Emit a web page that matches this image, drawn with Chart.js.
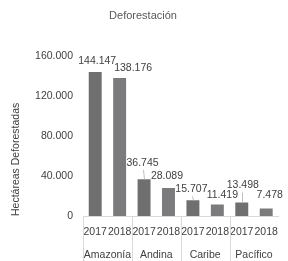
<!DOCTYPE html>
<html>
<head>
<meta charset="utf-8">
<script src="https://cdn.jsdelivr.net/npm/chart.js@4"></script>
<style>
    body { margin: 0; background: #fff; }
    #wrap { width: 288px; height: 261px; }
</style>
</head>
<body>
<div id="wrap"><canvas id="chart"></canvas></div>
<script>
const categorias = ['Amazonía', 'Andina', 'Caribe', 'Pacífico'];
const anios = ['2017', '2018'];
const valores2017 = [144147, 36745, 15707, 13498];
const valores2018 = [138176, 28089, 11419, 7478];
const ticksY = [0, 40000, 80000, 120000, 160000];

// desplazamiento de cada etiqueta respecto a la barra [dx, dy, linea guia]
const posEtiquetas = [
    [[2, 11, false], [-1.5, 16.5, true], [-1.5, 11, true], [1, 17, true]],
    [[13.5, 9.5, false], [-1.5, 11.5, false], [5, 9, false], [3.5, 13, false]]
];

const fuente = '"Liberation Sans", Arial, sans-serif';
const tam = 10.5;

function formato(v) {
    return String(v).replace(/\B(?=(\d{3})+(?!\d))/g, '.');
}

const etiquetas = {
    id: 'etiquetas',
    afterDatasetsDraw(chart) {
        const ctx = chart.ctx;
        ctx.save();
        ctx.font = tam + 'px ' + fuente;
        ctx.textAlign = 'center';
        ctx.textBaseline = 'middle';
        chart.data.datasets.forEach(function (ds, i) {
            chart.getDatasetMeta(i).data.forEach(function (bar, j) {
                let p = posEtiquetas[i][j];
                let x = bar.x + p[0];
                let y = bar.y - p[1];
                if (p[2]) {
                    ctx.strokeStyle = '#bfbfbf';
                    ctx.lineWidth = 1;
                    ctx.beginPath();
                    ctx.moveTo(Math.round(bar.x + p[0] / 2) + 0.5, y + 7);
                    ctx.lineTo(Math.round(bar.x) + 0.5, bar.y);
                    ctx.stroke();
                }
                ctx.fillStyle = '#404040';
                ctx.fillText(formato(ds.data[j]), x, y);
            });
        });
        ctx.restore();
    }
};

const separadores = {
    id: 'separadores',
    afterDraw(chart) {
        const ctx = chart.ctx;
        const sx = chart.scales.x;
        const paso = sx.width / categorias.length;
        ctx.save();
        ctx.strokeStyle = '#d9d9d9';
        ctx.lineWidth = 1;
        for (let i = 0; i < categorias.length; i++) {
            let x = Math.round(sx.getPixelForValue(i) - paso / 2) + 0.5;
            ctx.beginPath();
            ctx.moveTo(x, chart.chartArea.bottom);
            ctx.lineTo(x, chart.height);
            ctx.stroke();
        }
        ctx.restore();
    }
};

const ctx = document.getElementById('chart').getContext('2d');
const data = {
    labels: categorias,
    datasets: [{
            label: anios[0],
            data: valores2017,
            xAxisID: 'x',
            backgroundColor: '#6f6f71',
            categoryPercentage: 1,
            barPercentage: 0.53
        }, {
            label: anios[1],
            data: valores2018,
            xAxisID: 'x',
            backgroundColor: '#7b7b7d',
            categoryPercentage: 1,
            barPercentage: 0.53
        }]
};

const config = {
    type: 'bar',
    data,
    options: {
        responsive: true,
        maintainAspectRatio: false,
        animation: false,
        layout: {
            padding: {left: 0, right: 2, top: 0, bottom: 0}
        },
        plugins: {
            legend: {display: false},
            tooltip: {enabled: false},
            title: {
                display: true,
                text: 'Deforestación',
                color: '#595959',
                font: {family: fuente, size: 11, weight: 'normal'},
                padding: {top: 9, bottom: 34}
            }
        },
        scales: {
            x: {
                position: 'bottom',
                weight: 1,
                afterFit: function (s) {
                    s.height = 23;
                },
                grid: {display: false, drawTicks: false},
                border: {display: false},
                ticks: {
                    color: '#404040',
                    padding: 11,
                    maxRotation: 0,
                    autoSkip: false,
                    font: {family: fuente, size: tam}
                }
            },
            x2: {
                type: 'category',
                position: 'bottom',
                weight: 0,
                labels: categorias.flatMap(() => anios),
                offset: true,
                afterFit: function (s) {
                    s.height = 22;
                },
                grid: {display: false, drawTicks: false},
                border: {display: true, color: '#d9d9d9'},
                ticks: {
                    color: '#404040',
                    padding: 10,
                    maxRotation: 0,
                    autoSkip: false,
                    font: {family: fuente, size: tam}
                }
            },
            y: {
                min: 0,
                max: 160000,
                afterBuildTicks: function (s) {
                    s.ticks = ticksY.map(v => ({value: v}));
                },
                afterFit: function (s) {
                    s.width = 83;
                },
                grid: {display: false, drawTicks: false},
                border: {display: false},
                ticks: {
                    color: '#404040',
                    padding: 10,
                    font: {family: fuente, size: tam},
                    callback: v => formato(v)
                },
                title: {
                    display: true,
                    text: 'Hectáreas Deforestadas',
                    align: 'start',
                    color: '#404040',
                    font: {family: fuente, size: tam},
                    padding: {top: 10, bottom: 6}
                }
            }
        }
    },
    plugins: [etiquetas, separadores]
};
myChart = new Chart(ctx, config);
</script>
</body>
</html>
